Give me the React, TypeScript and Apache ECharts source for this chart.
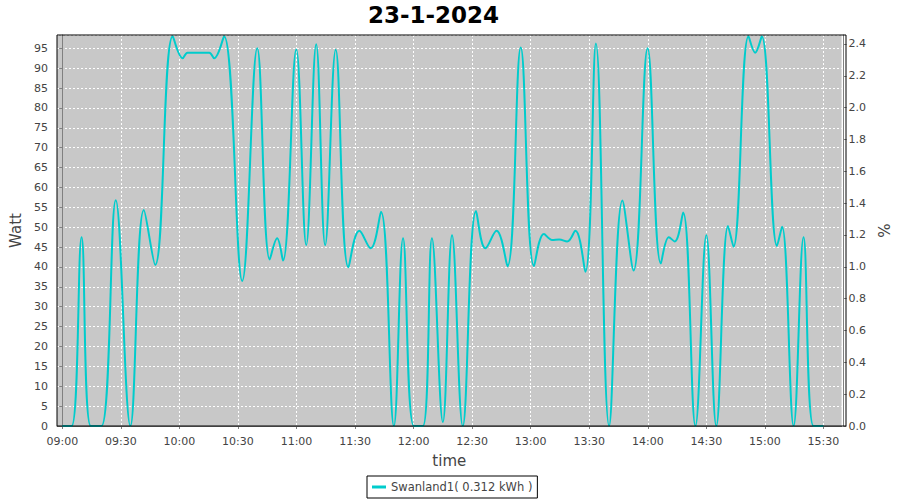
import React, { useEffect, useRef } from "react";
import * as echarts from "echarts";

const TITLE = "23-1-2024";
const SERIES_NAME = "Swanland1( 0.312 kWh )";
const X_NAME = "time";
const Y_NAME = "Watt";
const Y2_NAME = "%";

const TIMES = [
  "09:00:00", "09:04:48", "09:09:54", "09:14:36", "09:20:06", "09:27:24", "09:34:54", "09:41:48",
  "09:47:36", "09:56:36", "10:01:42", "10:04:12", "10:09:42", "10:15:18", "10:17:48", "10:22:54",
  "10:32:12", "10:39:54", "10:46:18", "10:50:06", "10:53:06", "10:59:54", "11:05:00", "11:10:06",
  "11:14:42", "11:20:06", "11:26:36", "11:32:12", "11:38:00", "11:43:18", "11:49:54", "11:54:36",
  "12:00:06", "12:04:48", "12:09:24", "12:15:00", "12:19:42", "12:25:12", "12:32:00", "12:36:48",
  "12:42:30", "12:48:06", "12:54:54", "13:01:42", "13:06:48", "13:11:00", "13:14:36", "13:18:42",
  "13:22:54", "13:28:00", "13:33:24", "13:40:12", "13:47:00", "13:52:42", "13:59:54", "14:06:42",
  "14:10:48", "14:13:48", "14:18:06", "14:24:24", "14:30:00", "14:35:06", "14:41:06", "14:43:54",
  "14:51:36", "14:55:00", "14:58:24", "15:06:12", "15:08:48", "15:14:42", "15:19:48", "15:24:54",
  "15:30:00",
];

const WATTS = [
  0, 0, 47.5, 0, 0, 56.8, 0, 54.3,
  40.5, 98, 92.5, 93.9, 93.9, 93.9, 92.5, 98,
  36.5, 95, 41.9, 47.2, 41.6, 94.7, 45.5, 96,
  45.5, 94.6, 39.9, 49.1, 44.7, 53.9, 0, 47.2,
  0, 0, 47.2, 1, 48, 0, 54.1, 44.7,
  49.1, 40.2, 95.2, 40.2, 48.3, 46.8, 46.9, 46.4,
  49.1, 38.8, 96.2, 0, 56.7, 39.1, 95, 40.9,
  47.5, 46.4, 53.7, 0, 48, 0, 50.3, 45.1,
  98, 93.9, 98, 45.3, 50.1, 0, 47.5, 0,
  0,
];

const X_TICKS = [
  "09:00", "09:30", "10:00", "10:30", "11:00", "11:30", "12:00",
  "12:30", "13:00", "13:30", "14:00", "14:30", "15:00", "15:30",
];

const toMin = (s: string) => {
  const p = s.split(":").map(Number);
  return (p[0] - 9) * 60 + p[1] + (p[2] || 0) / 60;
};
const fmtMin = (v: number) => {
  const total = Math.round(v) + 9 * 60;
  const h = Math.floor(total / 60);
  const m = total % 60;
  return String(h).padStart(2, "0") + ":" + String(m).padStart(2, "0");
};

const FONT = "DejaVu Sans";

export default function App() {
  const ref = useRef<HTMLDivElement>(null);
  useEffect(() => {
    document.body.style.margin = "0";
    if (!ref.current) return;
    const chart = echarts.init(ref.current, undefined, { renderer: "svg" });
    const tickVals = X_TICKS.map(toMin);
    const GL = 57, GT = 35, GW = 789, GH = 391;
    const nameStyle = { fontFamily: FONT, fontSize: 15, fontWeight: "normal", color: "#444" };
    chart.setOption({
      animation: false,
      backgroundColor: "#ffffff",
      textStyle: { fontFamily: FONT },
      title: {
        text: TITLE,
        left: 368,
        top: 3,
        padding: 0,
        textStyle: { fontFamily: FONT, fontSize: 23, fontWeight: "bold", color: "#000" },
      },
      grid: {
        left: GL, top: GT, width: GW, height: GH,
        show: true, backgroundColor: "#c8c8c8", borderWidth: 0,
      },
      legend: {
        data: [SERIES_NAME],
        left: 367,
        top: 476,
        icon: "rect",
        itemWidth: 14,
        itemHeight: 3,
        itemGap: 5,
        padding: [5, 5, 5, 5],
        borderColor: "#000",
        borderWidth: 1,
        borderRadius: 0,
        backgroundColor: "#fff",
        textStyle: { fontFamily: FONT, fontSize: 11.5, color: "#444" },
      },
      xAxis: {
        type: "value",
        min: -2.7,
        max: 399.3,
        offset: 4,
        name: X_NAME,
        nameLocation: "middle",
        nameGap: 23,
        nameTextStyle: nameStyle,
        axisLine: { show: true, lineStyle: { color: "#808080", width: 1 } },
        axisTick: { show: true, length: 3, customValues: tickVals, lineStyle: { color: "#808080" } },
        axisLabel: {
          customValues: tickVals,
          formatter: (v: number) => fmtMin(v),
          margin: 6,
          fontFamily: FONT, fontSize: 11, color: "#444",
        },
        splitLine: { show: true, lineStyle: { color: "#ffffff", type: [2, 2], width: 1 } },
      },
      yAxis: [
        {
          type: "value",
          min: 0,
          max: 98.34,
          interval: 5,
          offset: 4,
          name: Y_NAME,
          nameLocation: "middle",
          nameGap: 18,
          nameTextStyle: nameStyle,
          axisLine: { show: true, lineStyle: { color: "#808080", width: 1 } },
          axisTick: { show: true, length: 3, lineStyle: { color: "#808080" } },
          axisLabel: { showMaxLabel: false, margin: 5, fontFamily: FONT, fontSize: 11, color: "#444" },
          splitLine: { show: true, lineStyle: { color: "#ffffff", type: [2, 2], width: 1 } },
        },
        {
          type: "value",
          min: 0,
          max: 2.456,
          interval: 0.2,
          offset: 2,
          position: "right",
          name: Y2_NAME,
          nameLocation: "middle",
          nameGap: 23,
          nameTextStyle: nameStyle,
          axisLine: { show: true, lineStyle: { color: "#808080", width: 1 } },
          axisTick: { show: true, length: 3, lineStyle: { color: "#808080" } },
          axisLabel: {
            showMaxLabel: false,
            margin: 5,
            formatter: (v: number) => v.toFixed(1),
            fontFamily: FONT, fontSize: 11, color: "#444",
          },
          splitLine: { show: false },
        },
      ],
      graphic: [
        {
          type: "rect",
          z: 100,
          silent: true,
          shape: { x: GL, y: GT, width: GW, height: GH },
          style: { fill: "none", stroke: "#000", lineWidth: 1 },
        },
      ],
      series: [
        {
          name: SERIES_NAME,
          type: "line",
          yAxisIndex: 0,
          data: TIMES.map((t, i) => [toMin(t), WATTS[i]]),
          smooth: 0.4,
          showSymbol: false,
          lineStyle: { color: "#00cccc", width: 2 },
          itemStyle: { color: "#00cccc" },
        },
      ],
    });
    return () => chart.dispose();
  }, []);
  return <div ref={ref} style={{ width: 900, height: 500 }} />;
}
